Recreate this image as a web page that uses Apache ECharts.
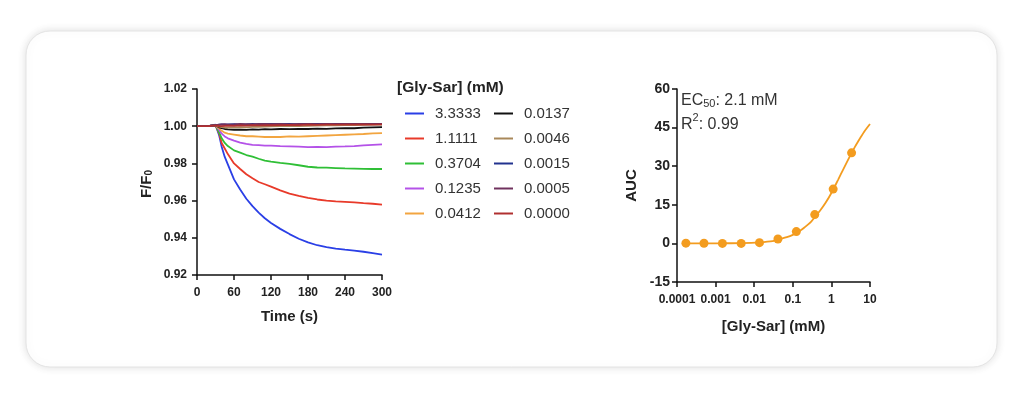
<!DOCTYPE html>
<html><head><meta charset="utf-8">
<script src="https://cdn.jsdelivr.net/npm/echarts@6/dist/echarts.min.js"></script>
<style>html,body{margin:0;padding:0;background:#fff}#c{width:1024px;height:399px}</style>
</head><body><div id="c"></div>
<script>
// ---- Data ----
const times = [0,10,20,30,33,36,40,45,50,60,70,80,90,100,110,120,135,150,165,180,195,210,225,240,255,270,285,300];
const concLabels = ['3.3333','1.1111','0.3704','0.1235','0.0412','0.0137','0.0046','0.0015','0.0005','0.0000'];
const s3_3333 = [1.0000,1.0001,1.0002,1.0008,1.0000,0.9950,0.9890,0.9835,0.9795,0.9714,0.9660,0.9610,0.9570,0.9535,0.9505,0.9480,0.9448,0.9420,0.9395,0.9375,0.9360,0.9350,0.9342,0.9336,0.9331,0.9325,0.9318,0.9310];
const s1_1111 = [1.0000,1.0000,1.0001,1.0005,1.0000,0.9960,0.9910,0.9880,0.9850,0.9800,0.9770,0.9742,0.9720,0.9700,0.9688,0.9675,0.9655,0.9638,0.9625,0.9615,0.9606,0.9600,0.9596,0.9593,0.9590,0.9586,0.9583,0.9578];
const s0_3704 = [1.0000,1.0000,1.0001,1.0004,1.0000,0.9965,0.9935,0.9910,0.9893,0.9870,0.9858,0.9845,0.9836,0.9825,0.9815,0.9810,0.9803,0.9798,0.9790,0.9782,0.9778,0.9777,0.9775,0.9773,0.9772,0.9771,0.9770,0.9770];
const s0_1235 = [1.0000,1.0000,1.0001,1.0004,1.0000,0.9980,0.9960,0.9945,0.9935,0.9922,0.9912,0.9905,0.9900,0.9898,0.9896,0.9896,0.9893,0.9892,0.9890,0.9888,0.9889,0.9888,0.9890,0.9891,0.9893,0.9897,0.9900,0.9902];
const s0_0412 = [1.0000,1.0000,1.0001,1.0004,1.0002,0.9988,0.9975,0.9965,0.9960,0.9955,0.9950,0.9946,0.9946,0.9944,0.9942,0.9943,0.9942,0.9945,0.9944,0.9946,0.9948,0.9950,0.9952,0.9954,0.9956,0.9958,0.9961,0.9963];
const s0_0137 = [1.0000,1.0000,1.0001,1.0004,1.0002,0.9994,0.9989,0.9985,0.9983,0.9981,0.9982,0.9980,0.9983,0.9982,0.9984,0.9983,0.9985,0.9984,0.9986,0.9985,0.9987,0.9986,0.9988,0.9990,0.9989,0.9992,0.9994,0.9995];
const s0_0046 = [1.0000,1.0000,1.0001,1.0004,1.0003,0.9998,0.9995,0.9993,0.9992,0.9994,0.9995,0.9994,0.9996,0.9997,0.9998,0.9999,1.0000,1.0001,1.0000,1.0002,1.0003,1.0004,1.0005,1.0006,1.0006,1.0007,1.0008,1.0008];
const s0_0015 = [1.0000,1.0000,1.0002,1.0006,1.0008,1.0009,1.0010,1.0008,1.0010,1.0011,1.0009,1.0010,1.0012,1.0010,1.0011,1.0013,1.0011,1.0012,1.0010,1.0012,1.0013,1.0011,1.0012,1.0013,1.0011,1.0012,1.0013,1.0012];
const s0_0005 = [1.0000,1.0000,1.0001,1.0005,1.0007,1.0008,1.0010,1.0011,1.0009,1.0010,1.0012,1.0011,1.0010,1.0012,1.0013,1.0011,1.0012,1.0010,1.0012,1.0013,1.0011,1.0012,1.0011,1.0012,1.0013,1.0011,1.0012,1.0011];
const s0_0000 = [1.0000,1.0000,1.0001,1.0004,1.0003,1.0001,1.0000,1.0002,1.0003,1.0002,1.0004,1.0003,1.0005,1.0004,1.0006,1.0005,1.0006,1.0007,1.0006,1.0008,1.0007,1.0008,1.0009,1.0008,1.0009,1.0010,1.0009,1.0010];
const lineColors = ['#2a3fe6','#e83a2a','#2fbf36','#b452e8','#f2a540','#111111','#a9885a','#22338f','#70325e','#b03030'];

const aucConc = [0.00017,0.0005,0.0015,0.0046,0.0137,0.0412,0.1235,0.3704,1.1111,3.3333];
const aucVals = [0.1,0.05,0.0,0.0,0.3,1.7,4.6,11.2,21.1,35.2];
const fitConc = [0.00017,0.0005,0.0015,0.0046,0.0137,0.03,0.0412,0.07,0.1,0.15,0.2,0.3,0.5,0.7,1,1.5,2,3,4,5,7,10];
const fitVals = [0.0,0.02,0.05,0.13,0.4,0.85,1.5,2.4,3.3,4.8,6.2,8.5,12.6,15.7,19.6,24.8,28.6,33.8,37.3,39.8,43.3,46.4];
const aucColor = '#f39c1f';

const leftYTicks = [0.92,1.02,0.02];
const rightYTicks = [-15,60,15];

// ---- Chart ----
const chart = echarts.init(document.getElementById('c'));
const allSeriesVals = [s3_3333,s1_1111,s0_3704,s0_1235,s0_0412,s0_0137,s0_0046,s0_0015,s0_0005,s0_0000];
const lineSeries = allSeriesVals.map((vals, k) => ({
  name: concLabels[k], type: 'line', xAxisIndex: 0, yAxisIndex: 0,
  showSymbol: false, symbol: 'none', animation: false,
  lineStyle: { color: lineColors[k], width: 1.8 }, itemStyle: { color: lineColors[k] },
  data: times.map((t, i) => [t, vals[i]])
}));

const font = 'Liberation Sans, Arial';
const tickLabel = { color: '#222', fontFamily: font, fontWeight: 'bold', fontSize: 12 };
const axisLine = { show: true, onZero: false, lineStyle: { color: '#111', width: 1.5 } };
const axisTick = { show: true, inside: false, length: 5, lineStyle: { color: '#111', width: 1.5 } };
const nameStyle = { color: '#222', fontFamily: font, fontWeight: 'bold', fontSize: 15 };

chart.setOption({
  animation: false,
  backgroundColor: '#fff',
  grid: [
    { left: 197, right: 642, top: 89, bottom: 124 },
    { left: 677, right: 154, top: 89, bottom: 117 }
  ],
  xAxis: [
    { gridIndex: 0, type: 'value', min: 0, max: 300, interval: 60,
      axisLine, axisTick, splitLine: { show: false }, axisLabel: { ...tickLabel, margin: 12 },
      name: 'Time (s)', nameLocation: 'middle', nameGap: 34, nameTextStyle: nameStyle },
    { gridIndex: 1, type: 'log', logBase: 10, min: 0.0001, max: 10,
      axisLine, axisTick, splitLine: { show: false }, minorTick: { show: false },
      axisLabel: { ...tickLabel, margin: 12, formatter: v => String(+Number(v).toPrecision(1)) },
      name: '[Gly-Sar] (mM)', nameLocation: 'middle', nameGap: 37, nameTextStyle: nameStyle }
  ],
  yAxis: [
    { gridIndex: 0, type: 'value', min: leftYTicks[0], max: leftYTicks[1], interval: leftYTicks[2],
      axisLine, axisTick, splitLine: { show: false },
      axisLabel: { ...tickLabel, margin: 10, formatter: v => v.toFixed(2) } },
    { gridIndex: 1, type: 'value', min: rightYTicks[0], max: rightYTicks[1], interval: rightYTicks[2],
      axisLine, axisTick, splitLine: { show: false },
      axisLabel: { ...tickLabel, fontSize: 14, margin: 7 },
      name: 'AUC', nameLocation: 'middle', nameGap: 38, nameRotate: 90, nameTextStyle: nameStyle }
  ],
  legend: [
    { data: concLabels.slice(0,5), orient: 'vertical', left: 400, top: 101, itemGap: 10,
      icon: 'rect', itemWidth: 19, itemHeight: 2, selectedMode: false,
      textStyle: { color: '#333', fontFamily: font, fontSize: 15, padding: [0,0,0,6] } },
    { data: concLabels.slice(5), orient: 'vertical', left: 489, top: 101, itemGap: 10,
      icon: 'rect', itemWidth: 19, itemHeight: 2, selectedMode: false,
      textStyle: { color: '#333', fontFamily: font, fontSize: 15, padding: [0,0,0,6] } }
  ],
  graphic: [
    { type: 'rect', z: -10, silent: true,
      shape: { x: 26, y: 31, width: 971, height: 336, r: 24 },
      style: { fill: '#fff', stroke: '#e4e4e4', lineWidth: 1, shadowBlur: 8, shadowColor: 'rgba(0,0,0,0.13)' } },
    { type: 'text', left: 397, top: 80, silent: true,
      style: { text: '[Gly-Sar] (mM)', fill: '#222', font: 'bold 15.5px Liberation Sans, Arial' } },
    { type: 'text', left: 138, top: 170, rotation: Math.PI / 2, silent: true,
      style: { text: '{a|F/F}{b|0}', rich: {
        a: { fontSize: 15, fontWeight: 'bold', fontFamily: font, fill: '#222', lineHeight: 18, verticalAlign: 'bottom' },
        b: { fontSize: 10, fontWeight: 'bold', fontFamily: font, fill: '#222', lineHeight: 18, verticalAlign: 'bottom', padding: [6,0,0,0] } } } },
    { type: 'text', left: 681, top: 90, silent: true,
      style: { text: '{a|EC}{b|50}{a|: 2.1 mM}', rich: {
        a: { fontSize: 16, fontFamily: font, fill: '#333', lineHeight: 21, verticalAlign: 'bottom' },
        b: { fontSize: 11, fontFamily: font, fill: '#333', lineHeight: 21, verticalAlign: 'bottom', padding: [8,0,0,0] } } } },
    { type: 'text', left: 681, top: 112, silent: true,
      style: { text: '{a|R}{b|2}{a|: 0.99}', rich: {
        a: { fontSize: 16, fontFamily: font, fill: '#333', lineHeight: 21, verticalAlign: 'bottom' },
        b: { fontSize: 11, fontFamily: font, fill: '#333', lineHeight: 21, verticalAlign: 'top' } } } }
  ],
  series: [
    ...lineSeries,
    { name: 'fit', type: 'line', xAxisIndex: 1, yAxisIndex: 1, smooth: 0.3, showSymbol: false, symbol: 'none',
      lineStyle: { color: aucColor, width: 1.8 }, data: fitConc.map((x, i) => [x, fitVals[i]]) },
    { name: 'AUC', type: 'scatter', xAxisIndex: 1, yAxisIndex: 1, symbolSize: 9,
      itemStyle: { color: aucColor, opacity: 1 }, data: aucConc.map((x, i) => [x, aucVals[i]]) }
  ]
});
</script></body></html>
